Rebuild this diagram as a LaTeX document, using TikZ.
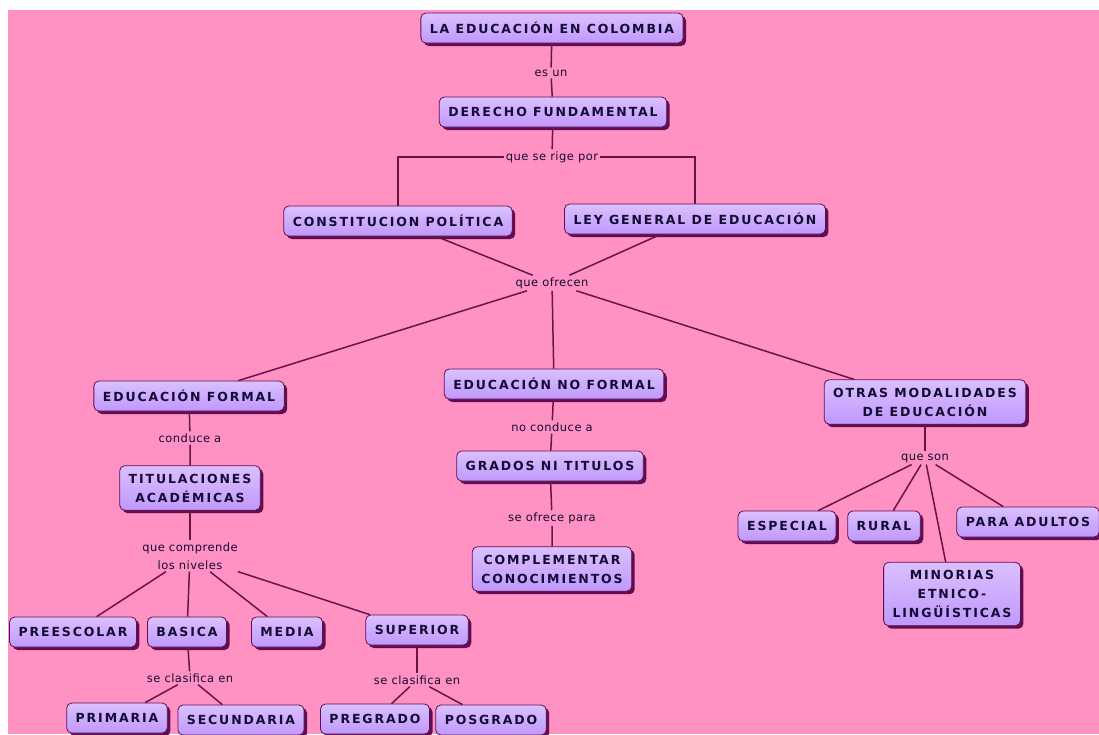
\documentclass[tikz,border=0pt]{standalone}
\usepackage{fontspec}
\setmainfont{DejaVu Sans}
\newfontfamily\conceptfont[LetterSpace=15]{DejaVu Sans Bold}
\newfontfamily\linkfont[LetterSpace=4]{DejaVu Sans}
\usetikzlibrary{shadows}
\usetikzlibrary{positioning}

\definecolor{fondo}{RGB}{255,146,194}
\definecolor{lila}{RGB}{192,152,252}
\definecolor{lilaclaro}{RGB}{218,192,255}
\definecolor{sombra}{RGB}{96,14,80}
\definecolor{linea}{RGB}{104,20,70}
\definecolor{texto}{RGB}{20,12,52}

\begin{document}
\begin{tikzpicture}[
    x=1pt, y=-1pt,
    font=\linkfont
]
\tikzset{
    concepto/.style = {rectangle, rounded corners=5pt, draw=sombra, line width=0.8pt,
        top color=lilaclaro, bottom color=lila, align=center, text=texto,
        font=\conceptfont\fontsize{12.5}{19}\selectfont, inner xsep=9pt,
        inner ysep=8pt, minimum height=30pt,
        drop shadow={shadow xshift=3pt, shadow yshift=-3pt, fill=sombra, opacity=1}},
    enlace/.style = {align=center, text=texto, inner sep=2pt,
        font=\linkfont\fontsize{11.5}{18}\selectfont},
    linea/.style = {-, draw=linea, line width=1.5pt}
}
\useasboundingbox (0,0) rectangle (1099,734);
\fill[white] (0,0) rectangle (1099,734);
\fill[fondo] (8,10) rectangle (1099,734);

% conceptos
\node[concepto] at (552,28) (edu) {LA EDUCACIÓN EN COLOMBIA};
\node[concepto] at (553,112) (derecho) {DERECHO FUNDAMENTAL};
\node[concepto] at (398,221) (const) {CONSTITUCION POLÍTICA};
\node[concepto] at (695,219) (ley) {LEY GENERAL DE EDUCACIÓN};
\node[concepto] at (189,396) (formal) {EDUCACIÓN FORMAL};
\node[concepto] at (554,384) (noformal) {EDUCACIÓN NO FORMAL};
\node[concepto] at (925,402) (otras) {OTRAS MODALIDADES\\DE EDUCACIÓN};
\node[concepto] at (190,488) (titul) {TITULACIONES\\ACADÉMICAS};
\node[concepto] at (73,632) (preesc) {PREESCOLAR};
\node[concepto] at (187,632) (basica) {BASICA};
\node[concepto] at (287,632) (media) {MEDIA};
\node[concepto] at (417,630) (superior) {SUPERIOR};
\node[concepto] at (117,718) (primaria) {PRIMARIA};
\node[concepto] at (241,720) (secundaria) {SECUNDARIA};
\node[concepto] at (375,719) (pregrado) {PREGRADO};
\node[concepto] at (491,720) (posgrado) {POSGRADO};
\node[concepto] at (550,466) (grados) {GRADOS NI TITULOS};
\node[concepto] at (552,569) (complem) {COMPLEMENTAR\\CONOCIMIENTOS};
\node[concepto] at (787,526) (especial) {ESPECIAL};
\node[concepto] at (884,526) (rural) {RURAL};
\node[concepto] at (1028,522) (adultos) {PARA ADULTOS};
\node[concepto] at (952,594) (minorias) {MINORIAS\\ETNICO-\\LINGÜÍSTICAS};

% frases de enlace
\node[enlace] at (551,73) (esun) {es un};
\node[enlace] at (552,157) (rige) {que se rige por};
\node[enlace] at (552,283) (ofrecen) {que ofrecen};
\node[enlace] at (190,438) (conduce) {conduce a};
\node[enlace] at (190,556) (comprende) {que comprende\\los niveles};
\node[enlace] at (190,678) (clasb) {se clasifica en};
\node[enlace] at (417,680) (class) {se clasifica en};
\node[enlace] at (552,427) (noconduce) {no conduce a};
\node[enlace] at (552,518) (ofrece) {se ofrece para};
\node[enlace] at (925,458) (son) {que son};

% lineas
\draw[linea] (edu) -- (esun) -- (derecho);
\draw[linea] (derecho) -- (rige);
\draw[linea] (rige.west) -| (const);
\draw[linea] (rige.east) -| (ley);
\draw[linea] (const) -- (ofrecen);
\draw[linea] (ley) -- (ofrecen);
\draw[linea] (ofrecen) -- (formal);
\draw[linea] (ofrecen) -- (noformal);
\draw[linea] (ofrecen) -- (otras);
\draw[linea] (formal) -- (conduce) -- (titul);
\draw[linea] (titul) -- (comprende);
\draw[linea] (comprende) -- (preesc);
\draw[linea] (comprende) -- (basica);
\draw[linea] (comprende) -- (media);
\draw[linea] (comprende) -- (superior);
\draw[linea] (basica) -- (clasb);
\draw[linea] (clasb) -- (primaria);
\draw[linea] (clasb) -- (secundaria);
\draw[linea] (superior) -- (class);
\draw[linea] (class) -- (pregrado);
\draw[linea] (class) -- (posgrado);
\draw[linea] (noformal) -- (noconduce) -- (grados);
\draw[linea] (grados) -- (ofrece) -- (complem);
\draw[linea] (otras) -- (son);
\draw[linea] (son) -- (especial);
\draw[linea] (son) -- (rural);
\draw[linea] (son) -- (minorias);
\draw[linea] (son) -- (adultos);
\end{tikzpicture}
\end{document}
